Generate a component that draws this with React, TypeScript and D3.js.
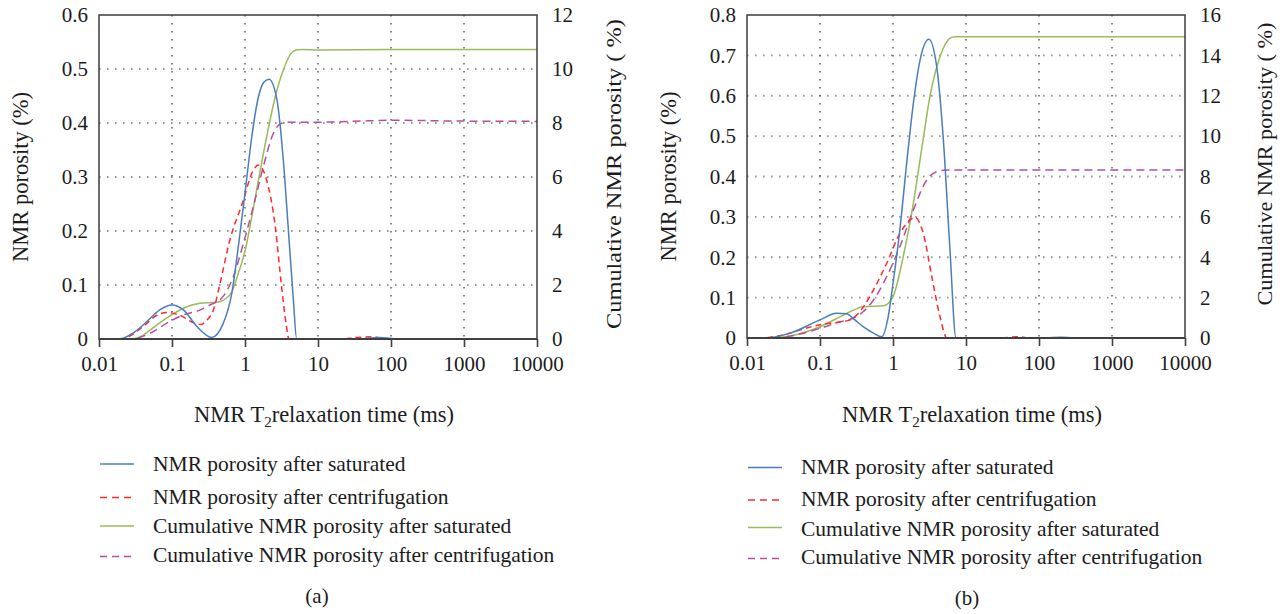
import React, { useEffect, useRef } from 'react';
import * as d3 from 'd3';

type Pt = [number, number];

// x axis (T2 time, ms) – shared by both panels
const xTicks = [0.01, 0.1, 1, 10, 100, 1000, 10000];
const xTickLabels = ['0.01', '0.1', '1', '10', '100', '1000', '10000'];

const poroTicksA = [0, 0.1, 0.2, 0.3, 0.4, 0.5, 0.6];
const cumTicksA = [0, 2, 4, 6, 8, 10, 12];
const poroTicksB = [0, 0.1, 0.2, 0.3, 0.4, 0.5, 0.6, 0.7, 0.8];
const cumTicksB = [0, 2, 4, 6, 8, 10, 12, 14, 16];

const legendLabels = [
  'NMR porosity after saturated',
  'NMR porosity after centrifugation',
  'Cumulative NMR porosity after saturated',
  'Cumulative NMR porosity after centrifugation',
];

// panel (a)
const satA: Pt[] = [
  [0.01, 0], [0.019, 0], [0.03, 0.012], [0.045, 0.032], [0.068, 0.054], [0.1, 0.063],
  [0.143, 0.054], [0.22, 0.023], [0.35, 0.003], [0.5, 0.028], [0.66, 0.085], [0.81, 0.171],
  [1, 0.27], [1.24, 0.375], [1.53, 0.449], [1.8, 0.475], [2.13, 0.481], [2.74, 0.443],
  [3.35, 0.331], [3.9, 0.208], [4.6, 0.072], [5.1, 0], [25, 0], [45, 0.001], [70, 0.003],
  [100, 0.001], [150, 0], [10000, 0],
];
const cenA: Pt[] = [
  [0.01, 0], [0.02, 0], [0.024, 0.003], [0.04, 0.023], [0.062, 0.044], [0.084, 0.049],
  [0.128, 0.044], [0.2, 0.03], [0.25, 0.027], [0.3, 0.035], [0.37, 0.054], [0.45, 0.1],
  [0.62, 0.183], [0.95, 0.257], [1.24, 0.307], [1.53, 0.322], [1.98, 0.294], [2.6, 0.208],
  [3.17, 0.097], [3.7, 0.023], [4.0, 0], [20, 0], [35, 0.003], [55, 0.004], [80, 0.001],
  [120, 0], [10000, 0],
];
const cumSatA: Pt[] = [
  [0.01, 0], [0.025, 0], [0.035, 0.06], [0.05, 0.33], [0.084, 0.77], [0.143, 1.14],
  [0.24, 1.32], [0.41, 1.36], [0.55, 1.5], [0.66, 1.75], [0.81, 2.43], [1, 3.25],
  [1.24, 4.53], [1.53, 5.89], [1.98, 7.49], [2.74, 9.22], [3.5, 10.1], [4.2, 10.55],
  [5, 10.7], [6, 10.72], [10, 10.7], [100, 10.72], [10000, 10.72],
];
const cumCenA: Pt[] = [
  [0.01, 0], [0.025, 0], [0.035, 0.05], [0.05, 0.21], [0.084, 0.58], [0.143, 0.89],
  [0.24, 1.07], [0.33, 1.26], [0.5, 1.57], [0.69, 2.3], [0.95, 3.54], [1.3, 4.9],
  [1.78, 6.38], [2.45, 7.62], [3.17, 7.99], [4, 8.03], [10, 8.03], [50, 8.08],
  [100, 8.1], [1000, 8.07], [10000, 8.06],
];

// panel (b)
const satB: Pt[] = [
  [0.01, 0], [0.0186, 0], [0.039, 0.012], [0.1, 0.045], [0.169, 0.061], [0.23, 0.06],
  [0.3, 0.045], [0.39, 0.028], [0.54, 0.012], [0.7, 0.003], [0.86, 0.053], [1, 0.135],
  [1.24, 0.267], [1.54, 0.433], [1.9, 0.581], [2.35, 0.689], [3.1, 0.74], [3.97, 0.672],
  [4.9, 0.49], [6, 0.226], [7.3, 0], [120, 0], [200, 0.002], [300, 0], [10000, 0],
];
const cenB: Pt[] = [
  [0.01, 0], [0.015, 0], [0.035, 0.01], [0.066, 0.025], [0.1, 0.033], [0.19, 0.04],
  [0.258, 0.045], [0.35, 0.065], [0.54, 0.119], [0.82, 0.185], [1.24, 0.259], [1.71, 0.292],
  [2.0, 0.299], [2.6, 0.259], [3.4, 0.152], [4.4, 0.053], [5.5, 0], [30, 0], [50, 0.003],
  [80, 0], [10000, 0],
];
const cumSatB: Pt[] = [
  [0.01, 0], [0.02, 0], [0.039, 0.1], [0.1, 0.56], [0.19, 1.06], [0.258, 1.3], [0.39, 1.55],
  [0.74, 1.6], [1, 2.05], [1.38, 4.03], [1.9, 6.67], [2.5, 9.48], [3.2, 11.95], [4.4, 13.93],
  [6, 14.84], [7, 14.92], [10000, 14.92],
];
const cumCenB: Pt[] = [
  [0.01, 0], [0.02, 0], [0.04, 0.1], [0.1, 0.48], [0.19, 0.8], [0.258, 0.92], [0.39, 1.3],
  [0.54, 1.88], [0.82, 3.04], [1.24, 4.52], [1.9, 6.34], [2.9, 7.83], [3.97, 8.24],
  [5.5, 8.32], [10000, 8.32],
];

const colors = ['#4a7ebb', '#ff2a2a', '#9bbb59', '#b34f9f'];
const dashes = ['none', '6,4', 'none', '8,5'];
const legendDash = ['none', '7,5', 'none', '7,5'];
const font = '"Liberation Serif", "DejaVu Serif", serif';
const ink = '#1c1c1c';

const panels = [
  {
    left: 99, right: 537, top: 15, bottom: 339,
    poroTicks: poroTicksA, cumTicks: cumTicksA,
    series: [satA, cenA, cumSatA, cumCenA],
    yTitleX: 20, cumTitleX: 614, cumTitleY: 174, cumTitleLen: 310,
    legendX: 100, legendLines: [464, 497.5, 526, 556.5], legendText: [470.5, 504, 533, 561.5],
    caption: '(a)', captionX: 317, captionY: 603,
  },
  {
    left: 747, right: 1185, top: 15, bottom: 338,
    poroTicks: poroTicksB, cumTicks: cumTicksB,
    series: [satB, cenB, cumSatB, cumCenB],
    yTitleX: 668, cumTitleX: 1265, cumTitleY: 164, cumTitleLen: 283,
    legendX: 748, legendLines: [467.5, 500, 527.5, 558.5], legendText: [473.5, 505.5, 535.5, 564],
    caption: '(b)', captionX: 967, captionY: 605,
  },
];

function App() {
  const svgRef = useRef<SVGSVGElement>(null);

  useEffect(() => {
    const svg = d3.select(svgRef.current);
    svg.selectAll('*').remove();

    panels.forEach((p) => {
      const g = svg.append('g');
      const x = d3.scaleLog().domain([0.01, 10000]).range([p.left, p.right]);
      const yL = d3.scaleLinear().domain([0, p.poroTicks[p.poroTicks.length - 1]]).range([p.bottom, p.top]);
      const yR = d3.scaleLinear().domain([0, p.cumTicks[p.cumTicks.length - 1]]).range([p.bottom, p.top]);

      // dotted grid
      g.selectAll(null).data(p.poroTicks.slice(1, -1)).join('line')
        .attr('x1', p.left).attr('x2', p.right)
        .attr('y1', (d) => yL(d)).attr('y2', (d) => yL(d))
        .attr('stroke', '#9a9a9a').attr('stroke-width', 1.8).attr('stroke-dasharray', '1.6,6.4');
      g.selectAll(null).data(xTicks.slice(1, -1)).join('line')
        .attr('x1', (d) => x(d)).attr('x2', (d) => x(d))
        .attr('y1', p.top).attr('y2', p.bottom)
        .attr('stroke', '#555').attr('stroke-width', 1.4).attr('stroke-dasharray', '1.4,6.6');

      // curves
      const yScales = [yL, yL, yR, yR];
      const order = [2, 3, 1, 0];
      order.forEach((i) => {
        const line = d3.line<Pt>().x((d) => x(d[0])).y((d) => yScales[i](d[1])).curve(d3.curveMonotoneX);
        g.append('path')
          .attr('d', line(p.series[i]))
          .attr('fill', 'none')
          .attr('stroke', colors[i])
          .attr('stroke-width', 1.5)
          .attr('stroke-dasharray', dashes[i]);
      });

      // frame
      g.append('rect')
        .attr('x', p.left).attr('y', p.top)
        .attr('width', p.right - p.left).attr('height', p.bottom - p.top)
        .attr('fill', 'none').attr('stroke', '#3c3c3c').attr('stroke-width', 1.5);
      g.append('line')
        .attr('x1', p.left).attr('x2', p.right).attr('y1', p.bottom).attr('y2', p.bottom)
        .attr('stroke', '#404040').attr('stroke-width', 2.2);

      // x ticks + labels
      const xAxis = d3.axisBottom(x).tickValues(xTicks)
        .tickFormat((_, i) => xTickLabels[i]).tickSize(8).tickPadding(9);
      const xg = g.append('g').attr('transform', `translate(0,${p.bottom})`).call(xAxis);
      xg.select('.domain').remove();
      xg.selectAll('line').attr('stroke', '#404040').attr('stroke-width', 1.6);
      xg.selectAll('text').attr('fill', ink).style('font-family', font).style('font-size', '21px');

      // left y labels
      g.selectAll(null).data(p.poroTicks).join('text')
        .attr('x', p.left - 11).attr('y', (d) => yL(d)).attr('dy', '0.35em')
        .attr('text-anchor', 'end').attr('fill', ink)
        .style('font-family', font).style('font-size', '21px')
        .text((d) => d3.format('')(d));

      // right y labels
      g.selectAll(null).data(p.cumTicks).join('text')
        .attr('x', p.right + 15).attr('y', (d) => yR(d)).attr('dy', '0.35em')
        .attr('text-anchor', 'start').attr('fill', ink)
        .style('font-family', font).style('font-size', '21px')
        .text((d) => String(d));

      // axis titles
      const cx = (p.left + p.right) / 2;
      const xt = g.append('text').attr('x', cx + 6).attr('y', 422)
        .attr('text-anchor', 'middle').attr('fill', ink)
        .style('font-family', font).style('font-size', '22.5px');
      xt.append('tspan').text('NMR T');
      xt.append('tspan').attr('dy', 5).style('font-size', '15px').text('2');
      xt.append('tspan').attr('dy', -5).text('relaxation time (ms)');

      g.append('text')
        .attr('transform', `translate(${p.yTitleX},${(p.top + p.bottom) / 2}) rotate(-90)`)
        .attr('text-anchor', 'middle').attr('dy', '0.35em').attr('fill', ink)
        .style('font-family', font).style('font-size', '22.5px')
        .text('NMR porosity (%)');

      g.append('text')
        .attr('transform', `translate(${p.cumTitleX},${p.cumTitleY}) rotate(-90)`)
        .attr('text-anchor', 'middle').attr('dy', '0.35em').attr('fill', ink)
        .attr('textLength', p.cumTitleLen).attr('lengthAdjust', 'spacingAndGlyphs')
        .style('font-family', font).style('font-size', '21px')
        .text('Cumulative NMR porosity ( %)');

      // legend
      legendLabels.forEach((label, i) => {
        g.append('line')
          .attr('x1', p.legendX).attr('x2', p.legendX + 34)
          .attr('y1', p.legendLines[i]).attr('y2', p.legendLines[i])
          .attr('stroke', colors[i]).attr('stroke-width', 1.5)
          .attr('stroke-dasharray', legendDash[i]);
        g.append('text')
          .attr('x', p.legendX + 53).attr('y', p.legendText[i]).attr('fill', ink)
          .style('font-family', font).style('font-size', '21.5px')
          .text(label);
      });

      g.append('text')
        .attr('x', p.captionX).attr('y', p.captionY).attr('text-anchor', 'middle').attr('fill', ink)
        .style('font-family', font).style('font-size', '21px')
        .text(p.caption);
    });
  }, []);

  return (
    <svg
      ref={svgRef}
      width={1287}
      height={614}
      style={{ position: 'absolute', left: 0, top: 0, background: '#fff' }}
    />
  );
}

export default App;
